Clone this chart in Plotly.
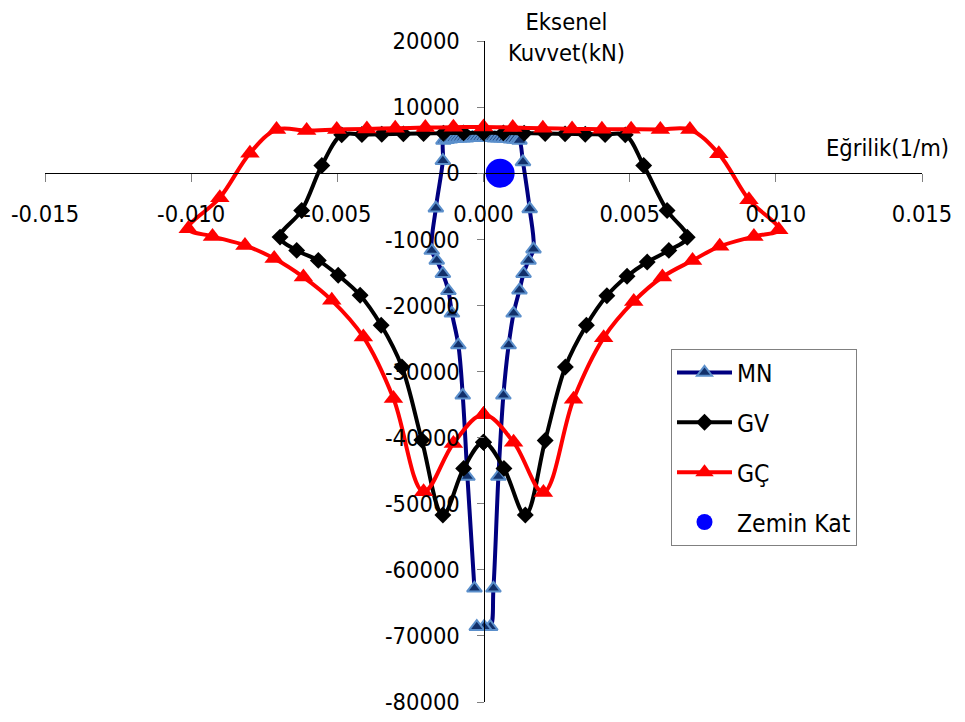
import plotly.graph_objects as go

# ---------------- data ----------------
mn_x = [-0.00031, -0.00055, -0.00071, -0.00086, -0.00108, -0.00120, -0.00139, -0.00160, -0.00177,
        -0.00163, -0.00139, -0.00137,
        -0.00126, -0.00115, -0.00104, -0.00093, -0.00082, -0.00071, -0.00060, -0.00049, -0.00038,
        -0.00027, -0.00016, -0.00005, 0.00006, 0.00017, 0.00028, 0.00039, 0.00050, 0.00061,
        0.00072, 0.00083, 0.00094, 0.00105, 0.00116,
        0.00123, 0.00135, 0.00158, 0.00171, 0.00154, 0.00137, 0.00123, 0.00103, 0.00086,
        0.00068, 0.00051, 0.00034, 0.00023, 0.00002, -0.00023]
mn_y = [-62800, -45900, -33600, -26000, -21200, -17800, -15200, -13200, -11700,
        -5300, 1900, 4950,
        5050, 5150, 5200, 5250, 5300, 5300, 5300, 5350, 5350,
        5350, 5350, 5350, 5350, 5350, 5350, 5300, 5300, 5300,
        5250, 5200, 5150, 5100, 5050,
        4950, 1700, -5400, -11500, -13200, -15200, -17700, -21200, -26000,
        -33600, -45900, -62800, -68600, -68600, -68600]

gv_x = [0.0, 0.00070, 0.00143, 0.00211, 0.00280, 0.00352, 0.00422, 0.00491, 0.00560, 0.00634,
        0.00697, 0.00628, 0.00548, 0.00485, 0.00416, 0.00348, 0.00279, 0.00211, 0.00139, 0.00068,
        0.0, -0.00068, -0.00137, -0.00205, -0.00274, -0.00348, -0.00416, -0.00485, -0.00553,
        -0.00622, -0.00696, -0.00639, -0.00565, -0.00497, -0.00422, -0.00350, -0.00279, -0.00211,
        -0.00139, -0.00068, 0.0]
gv_y = [-40700, -44660, -51700, -40430, -29310, -23010, -18550, -15600, -13440, -11680,
        -9700, -5640, 1160, 5800, 5850, 5900, 5950, 6000, 6050, 6100,
        6100, 6100, 6050, 6000, 5950, 5900, 5850, 5800, 1160,
        -5640, -9670, -11680, -13190, -15450, -18470, -23010, -29310, -40380,
        -51710, -44660, -40700]

gc_x = [0.0, 0.00103, 0.00205, 0.00308, 0.00411, 0.00514, 0.00612, 0.00715, 0.00808, 0.00925,
        0.01010, 0.00908, 0.00805, 0.00706, 0.00605, 0.00505, 0.00405, 0.00303, 0.00203, 0.00100,
        0.0, -0.00103, -0.00199, -0.00302, -0.00399, -0.00502, -0.00605, -0.00708, -0.00799,
        -0.00902, -0.01010, -0.00927, -0.00816, -0.00716, -0.00616, -0.00519, -0.00411, -0.00308,
        -0.00205, -0.00103, 0.0]
gc_y = [-36500, -40700, -48300, -34200, -24900, -19400, -15700, -13200, -11070, -9560,
        -8550, -4020, 2930, 6600, 6600, 6650, 6650, 6700, 6800, 6900,
        7000, 6950, 6900, 6800, 6700, 6600, 6450, 6600, 3020,
        -3720, -8400, -9560, -10920, -12900, -15710, -19230, -24770, -34080,
        -48200, -40880, -36500]

zk_x = [0.00057]
zk_y = [0]

x_ticks = [-0.015, -0.010, -0.005, 0.0, 0.005, 0.010, 0.015]
x_ticktext = ["-0.015", "-0.010", "-0.005", "0.000", "0.005", "0.010", "0.015"]
y_ticks = [20000, 10000, 0, -10000, -20000, -30000, -40000, -50000, -60000, -70000, -80000]
y_ticktext = ["20000", "10000", "0", "-10000", "-20000", "-30000", "-40000", "-50000",
              "-60000", "-70000", "-80000"]

# ---------------- figure ----------------
OFF = 8                      # page body margin added by the browser
W, H = 965 - OFF, 722 - OFF
ML, MR, MT, MB = 45 - OFF, 43, 41 - OFF, 20
PW, PH = W - ML - MR, H - MT - MB
FONT = "DejaVu Sans Condensed, DejaVu Sans, sans-serif"
FS = 23.5


def px(xp):
    return (xp - OFF - ML) / PW


def py(yp):
    return (H - MB - (yp - OFF)) / PH


fig = go.Figure()
fig.add_trace(go.Scatter(
    x=mn_x, y=mn_y, name="MN", mode="lines+markers", legendgroup="a",
    line=dict(color="#000080", width=4, shape="spline", smoothing=1.0),
    marker=dict(symbol="triangle-up", size=13, color="#12306a",
                line=dict(color="#5b8fcb", width=2)),
))
fig.add_trace(go.Scatter(
    x=gv_x, y=gv_y, name="GV", mode="lines+markers", legendgroup="b",
    line=dict(color="#000000", width=4, shape="spline", smoothing=1.0),
    marker=dict(symbol="diamond", size=13, color="#000000"),
))
fig.add_trace(go.Scatter(
    x=gc_x, y=gc_y, name="GÇ", mode="lines+markers", legendgroup="c",
    line=dict(color="#ff0000", width=4, shape="spline", smoothing=1.0),
    marker=dict(symbol="triangle-up", size=17, color="#ff0000"),
))
fig.add_trace(go.Scatter(
    x=zk_x, y=zk_y, name="Zemin Kat", mode="markers", legendgroup="d",
    marker=dict(symbol="circle", size=29, color="#0000ff"),
))

fig.update_layout(
    width=W, height=H,
    margin=dict(l=ML, r=MR, t=MT, b=MB, autoexpand=False),
    paper_bgcolor="white", plot_bgcolor="white",
    font=dict(family=FONT, size=FS, color="black"),
    xaxis=dict(range=[-0.015, 0.015], tickvals=x_ticks, ticktext=x_ticktext,
               showgrid=False, zeroline=False, showline=True, linecolor="black", linewidth=1,
               ticks="outside", ticklen=8, tickcolor="#808080", tickwidth=1,
               anchor="free", position=0.8, ticklabelstandoff=12, automargin=False,
               tickfont=dict(family=FONT, size=FS)),
    yaxis=dict(range=[-80000, 20000], tickvals=y_ticks, ticktext=y_ticktext,
               showgrid=False, zeroline=False, showline=True, linecolor="black", linewidth=1,
               ticks="outside", ticklen=7, tickcolor="#808080", tickwidth=1,
               anchor="free", position=0.5, ticklabelstandoff=12, automargin=False,
               tickfont=dict(family=FONT, size=FS)),
    legend=dict(x=px(671), y=py(349), xanchor="left", yanchor="top",
                bordercolor="#808080", borderwidth=1, bgcolor="white",
                font=dict(family=FONT, size=24.5), tracegroupgap=15, itemwidth=55),
    showlegend=True,
    annotations=[
        dict(text="Eksenel<br>Kuvvet(kN)", xref="paper", yref="paper",
             x=px(566), y=py(38), xanchor="center", yanchor="middle", showarrow=False,
             font=dict(family=FONT, size=FS)),
        dict(text="Eğrilik(1/m)", xref="paper", yref="paper",
             x=px(887), y=py(148), xanchor="center", yanchor="middle", showarrow=False,
             font=dict(family=FONT, size=FS)),
    ],
)

fig.write_html("out.html")
